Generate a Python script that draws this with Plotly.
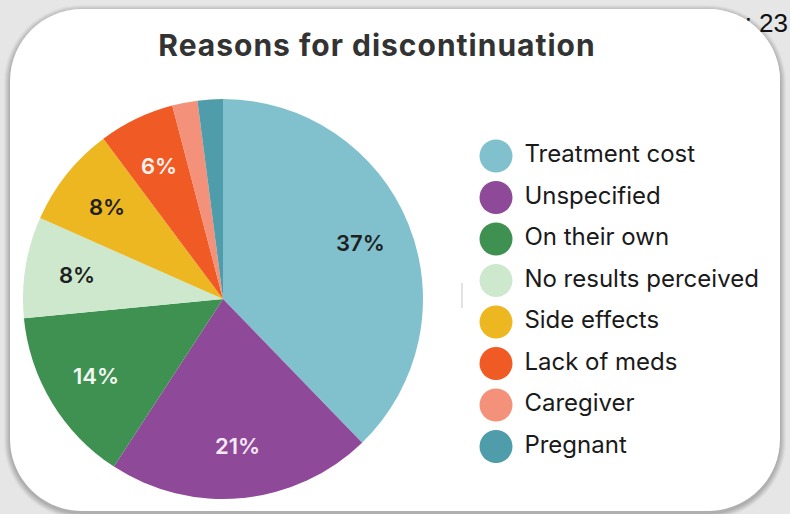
import math
import plotly.graph_objects as go

# ---- data ----
categories = ["Treatment cost", "Unspecified", "On their own", "No results perceived",
              "Side effects", "Lack of meds", "Caregiver", "Pregnant"]
values = [37, 21, 14, 8, 8, 6, 2, 2]
slice_labels = ["37%", "21%", "14%", "8%", "8%", "6%", "", ""]
colors = ["#80C1CD", "#8E4A98", "#3F9152", "#CDE8CD", "#EDB722", "#F05A25", "#F4917A", "#4F9CAB"]
label_colors = ["#1f1f1f", "#F6E8F6", "#F2F7F2", "#1f1f1f", "#1f1f1f", "#FFF3EE", "#1f1f1f", "#1f1f1f"]
title_text = "Reasons for discontinuation"
n_text = "n: 23"

W, H = 790, 514
FONT = "Inter"

fig = go.Figure()

# "n: 23" note (partly hidden behind the card corner)
fig.add_trace(go.Scatter(
    x=[788], y=[25], text=[n_text], mode="text", textposition="middle left",
    textfont=dict(family="Liberation Sans", size=26, color="#111"),
    xaxis="x2", yaxis="y2", showlegend=False, hoverinfo="skip", cliponaxis=False))

# custom legend with large circular swatches
legend_top, legend_step = 156, 41.5
leg_y = [legend_top + i * legend_step for i in range(len(categories))]
fig.add_trace(go.Scatter(
    x=[496] * len(categories), y=leg_y, mode="markers+text",
    marker=dict(size=33, color=colors, line=dict(width=0)),
    text=[" " + c for c in categories], textposition="middle right",
    textfont=dict(family=FONT, size=24, color="#1a1a1a"),
    xaxis="x2", yaxis="y2", showlegend=False, hoverinfo="skip", cliponaxis=False))

cx, cy, R = 223, 299, 200
fig.add_trace(go.Pie(
    labels=categories, values=values, textinfo="none",
    sort=False, direction="clockwise", rotation=0,
    marker=dict(colors=colors, line=dict(width=0)),
    domain=dict(x=[(cx - R) / W, (cx + R) / W], y=[(H - cy - R) / H, (H - cy + R) / H]),
    showlegend=False, hoverinfo="label+percent"))

# slice labels placed at the middle angle of each slice
annotations = []
total = sum(values)
cum = 0
for v, lab, col in zip(values, slice_labels, label_colors):
    mid = 2 * math.pi * (cum + v / 2) / total
    cum += v
    if not lab:
        continue
    rr = 0.74 * R
    annotations.append(dict(
        x=cx + rr * math.sin(mid), y=cy - rr * math.cos(mid), xref="x2", yref="y2",
        text=lab, showarrow=False, xanchor="center", yanchor="middle",
        font=dict(family=FONT, size=22, color=col, weight=600)))

# card geometry (pixel coords)
L, T, Rt, B, r = 10, 9, 780, 511, 72
k = 0.5523 * r


def card_path(l, t, rr, b, rad):
    kk = 0.5523 * rad
    return (f"M {l+rad},{t} L {rr-rad},{t} C {rr-rad+kk},{t} {rr},{t+rad-kk} {rr},{t+rad} "
            f"L {rr},{b-rad} C {rr},{b-rad+kk} {rr-rad+kk},{b} {rr-rad},{b} "
            f"L {l+rad},{b} C {l+rad-kk},{b} {l},{b-rad+kk} {l},{b-rad} "
            f"L {l},{t+rad} C {l},{t+rad-kk} {l+rad-kk},{t} {l+rad},{t} Z")


shapes = []
for i, op in enumerate([0.05, 0.06, 0.07, 0.08, 0.09, 0.10]):
    g = 6 - i
    shapes.append(dict(type="path", xref="x2", yref="y2", layer="below",
                       path=card_path(L - g, T - g + 2, Rt + g, B + g + 2, r + g),
                       fillcolor=f"rgba(90,90,90,{op})", line=dict(width=0)))
shapes.append(dict(type="path", xref="x2", yref="y2", layer="below",
                   path=card_path(L, T, Rt, B, r), fillcolor="white", line=dict(width=0)))
shapes.append(dict(type="path", xref="x2", yref="y2", layer="above",
                   path=(f"M {Rt-r-20},{T} L {Rt-r},{T} C {Rt-r+k},{T} {Rt},{T+r-k} {Rt},{T+r} "
                         f"L {Rt-r-20},{T+r} Z"),
                   fillcolor="white", line=dict(width=0)))
shapes.append(dict(type="line", xref="x2", yref="y2", layer="below",
                   x0=462, x1=462, y0=283, y1=308, line=dict(color="#e2e2e2", width=2)))

fig.update_layout(
    width=W, height=H, margin=dict(l=0, r=0, t=0, b=0),
    paper_bgcolor="#e6e6e6", plot_bgcolor="rgba(0,0,0,0)",
    shapes=shapes, annotations=annotations,
    title=dict(text=f'<span style="letter-spacing:1px"><b>{title_text}</b></span>',
               x=377 / W, xanchor="center",
               y=1 - 45 / H, yanchor="middle", yref="container",
               font=dict(family=FONT, size=30, color="#333333")),
    xaxis2=dict(domain=[0, 1], range=[0, W], visible=False, fixedrange=True),
    yaxis2=dict(domain=[0, 1], range=[H, 0], visible=False, fixedrange=True, anchor="x2"),
    xaxis=dict(visible=False), yaxis=dict(visible=False),
)

fig.write_html("out.html", config={"displayModeBar": False},
               post_script="document.body.style.margin='0px';")
